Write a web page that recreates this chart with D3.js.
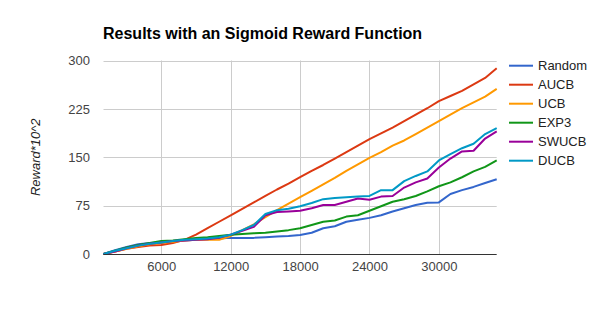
<!DOCTYPE html>
<html><head><meta charset="utf-8">
<script src="https://cdnjs.cloudflare.com/ajax/libs/d3/7.8.5/d3.min.js"></script>
<style>body{margin:0;background:#fff;}svg{display:block;font-family:Arial,"Liberation Sans",sans-serif;}</style>
</head><body>
<script>
const steps = d3.range(1000, 35001, 1000);
const seriesNames = ["Random","AUCB","UCB","EXP3","SWUCB","DUCB"];
const colors = ["#3366cc","#dc3912","#ff9900","#109618","#990099","#0099c6"];
const randomVals = [0,6,11,15,17,18,19,21,22,23,24,25,25,25,26,27,28,29.5,33,40,43,50,53,56,60,66,71,76,79.5,80,93,99,104,110,116];
const aucbVals = [0,4,8,11,13,14,17,22,30,40,50,60,70,80,90,100,109,119,129,138,148,158,168,178,187,196,206,216,226,237,245,253,263,273,288];
const ucbVals = [0,4,8,12,15,17,19,21,22,22,22,28,37,46,57,68,78,88,98,108,118,129,139,149,158,168,176,186,196,206,216,226,235,244,256];
const exp3Vals = [0,5,10,14,17,20,21,23,25,26,28,30,31,32,33,35,37,40,45,50,52,58,60,67,74,81,85,90,97,105,111,119,128,135,145];
const swucbVals = [0,4,9,13,16,18,20,21,22,23,25,30,36,42,60,65,66,67,71,76,76,81,86,84,89,90,103,111,117,134,148,159,160,179,190];
const ducbVals = [0,5,9,13,16,18,20,22,23,24,26,30,37,45,62,68,70,74,79,85,87,88,89,90,99,99,113,121,128,145,155,164,171,186,195];
const xTicks = [6000,12000,18000,24000,30000];
const yTicks = [0,75,150,225,300];
const title = "Results with an Sigmoid Reward Function";
const yTitle = "Reward*10^2";

const allVals = [randomVals,aucbVals,ucbVals,exp3Vals,swucbVals,ducbVals];
const W=600,H=315;
const svg = d3.select("body").append("svg").attr("width",W).attr("height",H);
const x = d3.scaleLinear().domain([1000,35000]).range([103.5,496.7]);
const y = d3.scaleLinear().domain([0,300]).range([254,60.5]);

svg.append("text").attr("x",103).attr("y",39).attr("font-size",16).attr("font-weight","bold").attr("fill","#000").text(title);

// gridlines
svg.append("g").selectAll("line").data(yTicks.filter(d=>d>0)).join("line")
  .attr("x1",x.range()[0]).attr("x2",x.range()[1]).attr("y1",d=>Math.round(y(d))+0.5).attr("y2",d=>Math.round(y(d))+0.5)
  .attr("stroke","#cccccc").attr("stroke-width",1);
svg.append("g").selectAll("line").data(xTicks).join("line")
  .attr("x1",d=>Math.round(x(d))+0.5).attr("x2",d=>Math.round(x(d))+0.5).attr("y1",y(300)).attr("y2",y(0))
  .attr("stroke","#cccccc").attr("stroke-width",1);

// axes
const yAxis = d3.axisLeft(y).tickValues(yTicks).tickSize(0).tickPadding(0);
const gy = svg.append("g").attr("transform",`translate(90,0)`).call(yAxis);
gy.select(".domain").remove();
gy.selectAll("text").attr("font-size",13).attr("fill","#444").attr("font-family","Arial,'Liberation Sans',sans-serif");

const xAxis = d3.axisBottom(x).tickValues(xTicks).tickSize(0).tickPadding(0).tickFormat(d3.format("d"));
const gx = svg.append("g").attr("transform",`translate(0,262)`).call(xAxis);
gx.select(".domain").remove();
gx.selectAll("text").attr("font-size",13).attr("fill","#444").attr("font-family","Arial,'Liberation Sans',sans-serif");

svg.append("text").attr("transform",`translate(40,${y(150)}) rotate(-90)`).attr("text-anchor","middle")
  .attr("font-size",13).attr("font-style","italic").attr("fill","#222").text(yTitle);

// lines
const line = d3.line().x((d,i)=>x(steps[i])).y(d=>y(d));
allVals.forEach((vals,k)=>{
  svg.append("path").datum(vals).attr("d",line).attr("fill","none")
    .attr("stroke",colors[k]).attr("stroke-width",2).attr("stroke-linejoin","round");
});

// baseline
svg.append("line").attr("x1",x.range()[0]).attr("x2",x.range()[1]).attr("y1",y(0)+0.5).attr("y2",y(0)+0.5).attr("stroke","#333").attr("stroke-width",1);

// legend
const lg = svg.append("g").selectAll("g").data(seriesNames).join("g")
  .attr("transform",(d,i)=>`translate(509,${65.7+i*19})`);
lg.append("line").attr("x1",0).attr("x2",24).attr("y1",0).attr("y2",0).attr("stroke",(d,i)=>colors[i]).attr("stroke-width",2);
lg.append("text").attr("x",29).attr("y",4.5).attr("font-size",13).attr("fill","#222").text(d=>d);
</script>
</body></html>
